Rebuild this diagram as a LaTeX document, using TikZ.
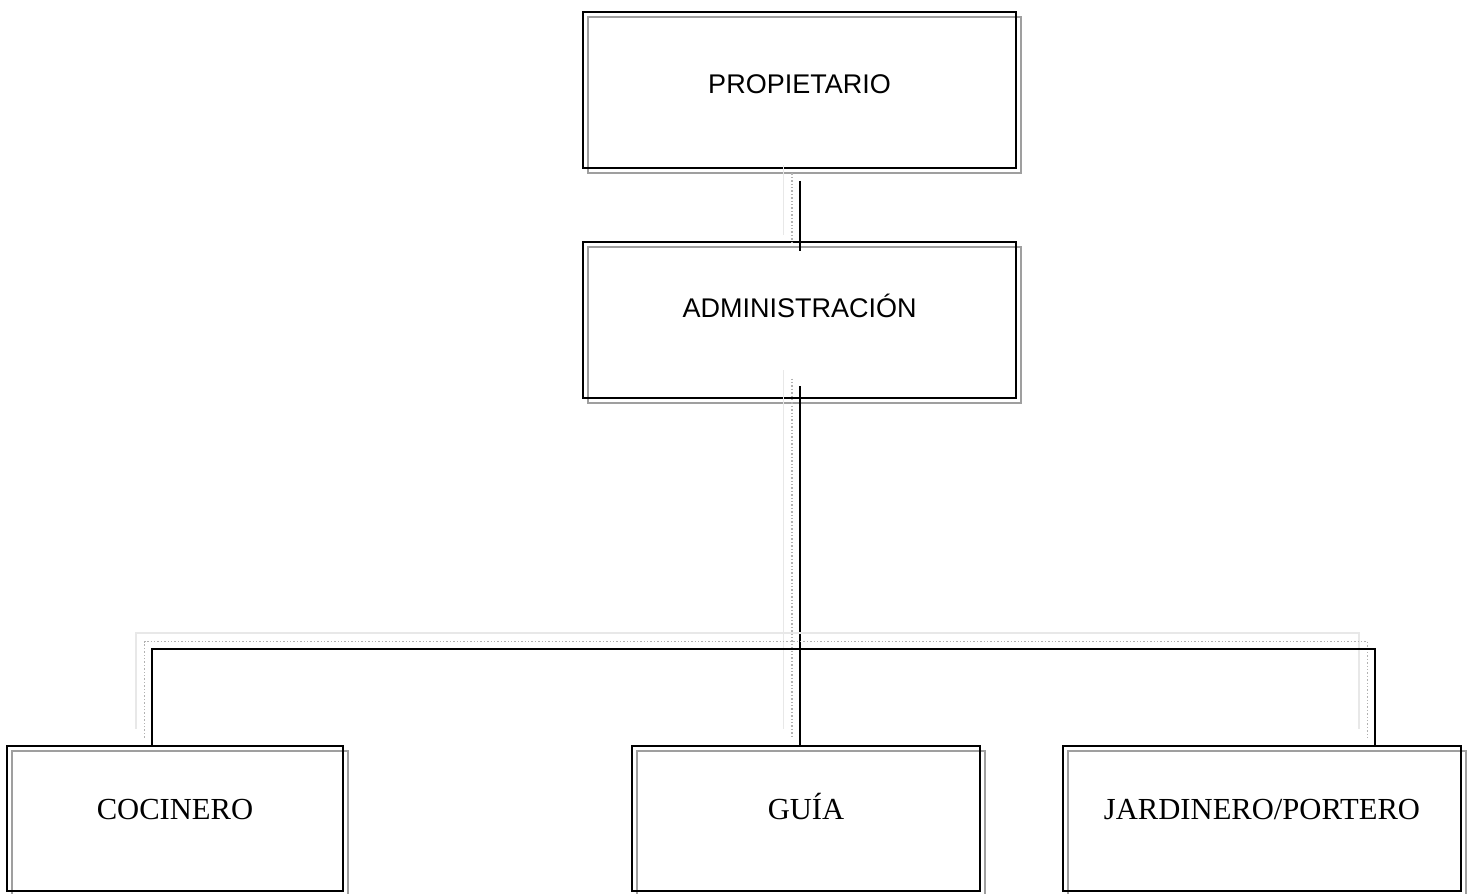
\documentclass[tikz,border=0pt]{standalone}
\usepackage{fontspec}
\setmainfont{Liberation Serif}
\newfontfamily\comicfont{Liberation Sans}
\usetikzlibrary{shadows}

\tikzset{
  orgbox/.style={draw, rectangle, line width=1pt, inner sep=0pt,
    copy shadow={shadow xshift=2.5pt, shadow yshift=-2.5pt, draw=gray!75, fill=none, line width=0.8pt}},
  topbox/.style={orgbox, minimum width=216.5pt, minimum height=78pt,
    font=\comicfont\fontsize{13.5}{16}\selectfont, text height=9.7pt, text depth=#1},
  lowbox/.style={orgbox, minimum width=#1, minimum height=72.5pt,
    font=\fontsize{15.3}{18}\selectfont, text height=10.1pt, text depth=9.5pt},
  link/.style={line width=1pt,
    copy shadow={shadow xshift=-8pt, shadow yshift=8pt, draw=gray!18, fill=none, line width=0.7pt},
    copy shadow={shadow xshift=-3.75pt, shadow yshift=3.75pt, draw=gray!60, fill=none, densely dotted, line width=0.7pt}}
}

\begin{document}
\begin{tikzpicture}[x=0.5pt, y=-0.5pt]
  \useasboundingbox (0,0) rectangle (1470,893);

  \node[topbox=6.5pt] (prop) at (799.5,90) {PROPIETARIO};
  \node[topbox=12pt] (admin) at (799.5,320) {ADMINISTRACIÓN};

  \node[lowbox=168pt] (cocinero) at (175,818.5) {COCINERO};
  \node[lowbox=174pt] (guia) at (806,818.5) {GUÍA};
  \node[lowbox=199pt] (jardinero) at (1262,818.5) {JARDINERO/PORTERO};

  \coordinate (busL) at (152,649);
  \coordinate (busR) at (1375,649);

  \draw[link] ([yshift=-6pt]prop.south) -- ([yshift=-5pt]admin.north);
  \draw[link] ([yshift=6.5pt]admin.south) -- (admin.south |- guia.north);
  \draw[link] (busL |- cocinero.north) -- (busL) -- (busR) -- (busR |- jardinero.north);

\end{tikzpicture}
\end{document}
